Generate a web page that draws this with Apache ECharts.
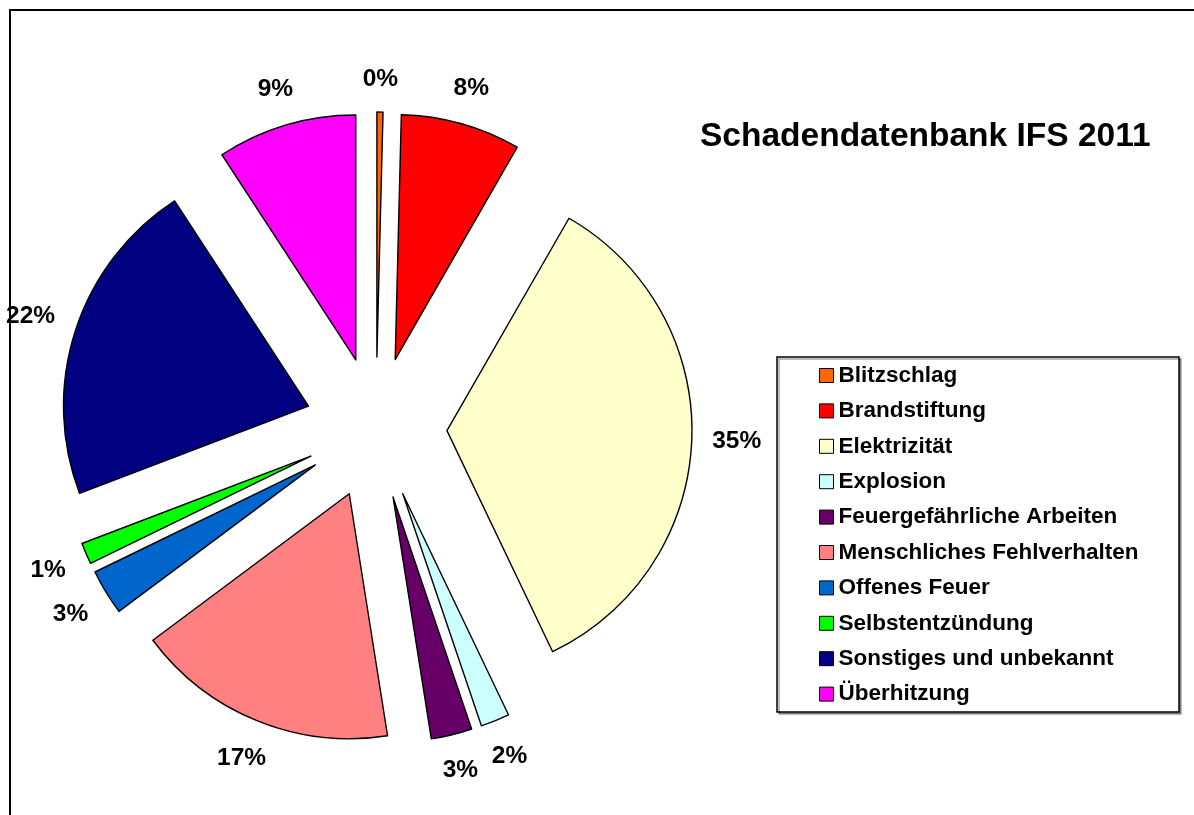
<!DOCTYPE html>
<html>
<head>
<meta charset="utf-8">
<script src="https://cdn.jsdelivr.net/npm/echarts@6/dist/echarts.min.js"></script>
<style>
  html, body { margin: 0; padding: 0; background: #fff; }
  #main { width: 1194px; height: 815px; }
</style>
</head>
<body>
<div id="main"></div>
<script>
var categories = [
    'Blitzschlag',
    'Brandstiftung',
    'Elektrizität',
    'Explosion',
    'Feuergefährliche Arbeiten',
    'Menschliches Fehlverhalten',
    'Offenes Feuer',
    'Selbstentzündung',
    'Sonstiges und unbekannt',
    'Überhitzung'
];
// share in percent
var values = [0.4, 7.9, 34.6, 1.9, 2.7, 17.3, 3.0, 1.4, 21.6, 9.2];
var colors = ['#FF6600', '#FF0000', '#FFFFCC', '#CCFFFF', '#660066',
              '#FF8080', '#0066CC', '#00FF00', '#000080', '#FF00FF'];
var titleText = 'Schadendatenbank IFS 2011';

var font = 'Liberation Sans, Arial, Helvetica, sans-serif';
var pieX = 376, pieY = 428, pieR = 245;
var explode = 71;
var labelGap = 20;

// mid angle of every slice (clockwise from 12 o'clock)
var total = values.reduce(function (s, v) { return s + v; }, 0);
var cum = 0;
var mids = values.map(function (v) {
    var a = (cum + v / 2) / total * 2 * Math.PI;
    cum += v;
    return a;
});

var pieData = categories.map(function (name, i) {
    return {
        name: name,
        value: values[i],
        selected: true,
        itemStyle: { color: colors[i] }
    };
});
// same values again, only carries the percent labels
var labelData = categories.map(function (name, i) {
    return { name: name, value: values[i] };
});

var chart = echarts.init(document.getElementById('main'));

var option = {
    animation: false,
    backgroundColor: '#fff',
    title: {
        text: titleText,
        left: 700,
        top: 120,
        padding: 0,
        textStyle: {
            fontFamily: font,
            fontSize: 33.5,
            fontWeight: 'bold',
            color: '#000'
        }
    },
    legend: {
        orient: 'vertical',
        left: 819,
        top: 364,
        padding: 0,
        itemWidth: 14,
        itemHeight: 14,
        itemGap: 12.4,
        icon: 'rect',
        selectedMode: false,
        itemStyle: { borderColor: '#000', borderWidth: 1 },
        textStyle: {
            fontFamily: font,
            fontSize: 22.5,
            fontWeight: 'bold',
            lineHeight: 22,
            color: '#000'
        },
        data: categories
    },
    graphic: [
        {
            type: 'polyline',
            shape: { points: [[10, 830], [10, 10], [1200, 10]] },
            style: { fill: null, stroke: '#000', lineWidth: 2 },
            silent: true
        },
        {
            type: 'rect',
            shape: { x: 777, y: 357, width: 402, height: 355 },
            style: {
                fill: '#fff', stroke: '#000', lineWidth: 1.5,
                shadowColor: 'rgba(0,0,0,0.35)', shadowOffsetX: 2, shadowOffsetY: 2
            },
            z: -1,
            silent: true
        }
    ],
    series: [
        {
            type: 'pie',
            center: [pieX, pieY],
            radius: pieR,
            startAngle: 90,
            clockwise: true,
            selectedMode: 'multiple',
            selectedOffset: explode,
            avoidLabelOverlap: false,
            itemStyle: { borderColor: '#000', borderWidth: 1.4 },
            emphasis: { disabled: true, scale: false },
            select: { itemStyle: { borderColor: '#000', borderWidth: 1.4 } },
            label: { show: false },
            labelLine: { show: false },
            data: pieData
        },
        {
            type: 'pie',
            center: [pieX, pieY],
            radius: pieR,
            startAngle: 90,
            clockwise: true,
            silent: true,
            selectedMode: false,
            avoidLabelOverlap: false,
            z: 1,
            itemStyle: { color: 'rgba(0,0,0,0)', borderWidth: 0 },
            emphasis: { disabled: true, scale: false },
            label: {
                show: true,
                position: 'outside',
                fontFamily: font,
                fontSize: 24.5,
                fontWeight: 'bold',
                color: '#000',
                formatter: function (p) {
                    return Math.round(p.percent) + '%';
                }
            },
            labelLine: { show: false },
            labelLayout: function (p) {
                var a = mids[p.dataIndex];
                var dx = Math.sin(a), dy = -Math.cos(a);
                var hw = p.labelRect.width / 2, hh = p.labelRect.height / 2;
                var dist = pieR + explode + labelGap + hw * Math.abs(dx) + hh * Math.abs(dy);
                return {
                    x: pieX + dx * dist,
                    y: pieY + dy * dist,
                    align: 'center',
                    verticalAlign: 'middle'
                };
            },
            data: labelData
        }
    ]
};

chart.setOption(option);
</script>
</body>
</html>
